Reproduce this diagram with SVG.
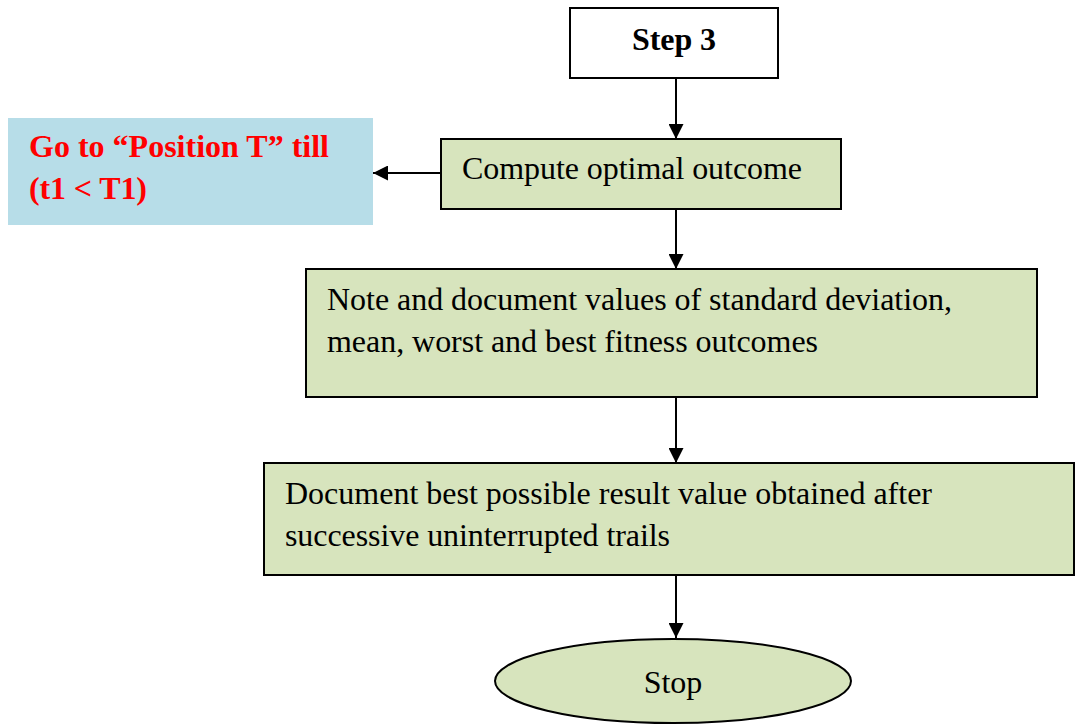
<svg xmlns="http://www.w3.org/2000/svg" width="1075" height="725" viewBox="0 0 1075 725">
  <style>
    .box { fill: #d7e4bd; stroke: #000; stroke-width: 2; }
    .plain { fill: #fff; stroke: #000; stroke-width: 2; }
    .txt { font-family: "Liberation Serif", "Times New Roman", serif; font-size: 32px; fill: #000; }
    .bold { font-weight: bold; }
    .red { fill: #ff0000; font-weight: bold; }
    .edge { stroke: #000; stroke-width: 2; fill: none; marker-end: url(#arrow); }
  </style>
  <defs>
    <marker id="arrow" viewBox="0 0 10 10" refX="10" refY="5" markerWidth="16" markerHeight="15" markerUnits="userSpaceOnUse" orient="auto">
      <path d="M0,0 L10,5 L0,10 z" fill="#000"/>
    </marker>
  </defs>

  <g id="connectors">
    <line class="edge" x1="676" y1="78" x2="676" y2="139"/>
    <line class="edge" x1="441" y1="173" x2="373" y2="173"/>
    <line class="edge" x1="676" y1="209" x2="676" y2="269"/>
    <line class="edge" x1="676" y1="397" x2="676" y2="463"/>
    <line class="edge" x1="676" y1="575" x2="676" y2="638"/>
  </g>

  <g id="step3">
    <rect class="plain" x="570" y="8" width="208" height="70"/>
    <text class="txt bold" x="674" y="50" text-anchor="middle" textLength="84">Step 3</text>
  </g>

  <g id="goto">
    <rect x="8" y="118" width="365" height="107" fill="#b7dde8"/>
    <text class="txt red" x="29" y="157" textLength="300">Go to “Position T” till</text>
    <text class="txt red" x="29" y="199" textLength="118">(t1 &lt; T1)</text>
  </g>

  <g id="compute">
    <rect class="box" x="441" y="139" width="400" height="70"/>
    <text class="txt" x="462" y="179" textLength="340">Compute optimal outcome</text>
  </g>

  <g id="note">
    <rect class="box" x="306" y="269" width="731" height="128"/>
    <text class="txt" x="327" y="310" textLength="625">Note and document values of standard deviation,</text>
    <text class="txt" x="327" y="352" textLength="491">mean, worst and best fitness outcomes</text>
  </g>

  <g id="document">
    <rect class="box" x="264" y="463" width="810" height="112"/>
    <text class="txt" x="285" y="504" textLength="647">Document best possible result value obtained after</text>
    <text class="txt" x="285" y="546" textLength="385">successive uninterrupted trails</text>
  </g>

  <g id="stop">
    <ellipse class="box" cx="673" cy="681" rx="178" ry="42"/>
    <text class="txt" x="673" y="693" text-anchor="middle">Stop</text>
  </g>
</svg>
